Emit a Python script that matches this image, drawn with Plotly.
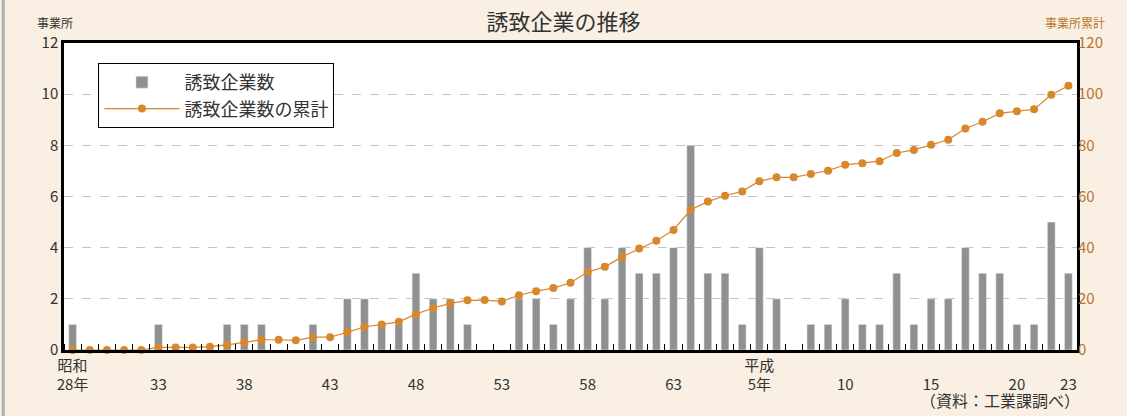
import plotly.graph_objects as go

# 昭和28年(1953) ～ 平成23年(2011)
years = list(range(1953, 2012))

companies = [
    1, 0, 0, 0, 0, 1, 0, 0, 0, 1, 1, 1, 0, 0, 1, 0,  # S28-S43
    2, 2, 1, 1, 3, 2, 2, 1, 0, 0, 2, 2, 1, 2, 4, 2,  # S44-S59
    4, 3, 3, 4, 8,                                    # S60-S64
    3, 3, 1, 4, 2, 0, 1, 1, 2, 1, 1, 3, 1, 2, 2, 4,  # H2-H17
    3, 3, 1, 1, 5, 3,                                 # H18-H23
]

cumulative = [
    0, 0, 0, 0, 0, 1, 1, 1, 1.3, 2, 3, 4, 4, 3.8, 5, 5,
    7, 9, 10, 11, 14, 16.4, 18.2, 19.4, 19.5, 19, 21.4, 23, 24.2, 26.3, 30.5, 32.5,
    36.4, 39.7, 42.7, 46.9, 54.8,
    58, 60.3, 62, 66, 67.5, 67.5, 68.8, 70.1, 72.4, 73, 73.8, 77, 78.2, 80.2, 82.2, 86.6,
    89.2, 92.5, 93.3, 94.1, 99.8, 103.3,
]

tick_years = [1953, 1958, 1963, 1968, 1973, 1978, 1983, 1988, 1993, 1998, 2003, 2008, 2011]
tick_text = ["昭和<br>28年", "<br>33", "<br>38", "<br>43", "<br>48", "<br>53", "<br>58",
             "<br>63", "平成<br>5年", "<br>10", "<br>15", "<br>20", "<br>23"]

FONT = "Noto Sans CJK JP"
ORANGE = "#d8882c"
BROWN = "#b8742e"

fig = go.Figure()
fig.add_trace(go.Bar(
    x=years, y=companies, name="誘致企業数",
    marker_color="#909090", width=0.45,
))
fig.add_trace(go.Scatter(
    x=years, y=cumulative, name="誘致企業数の累計", yaxis="y2",
    mode="lines+markers", line=dict(color=ORANGE, width=1.2),
    marker=dict(color=ORANGE, size=8), cliponaxis=False,
))

fig.update_layout(
    width=1127, height=416,
    margin=dict(l=64, r=50, t=43, b=66),
    paper_bgcolor="#f9f0e3", plot_bgcolor="white",
    font=dict(family=FONT, color="#333333", size=15),
    title=dict(text="誘致企業の推移", x=0.5, xanchor="center", y=0.947, yanchor="middle",
               font=dict(size=22, color="#333333")),
    showlegend=True,
    legend=dict(x=0.034, y=0.935, xanchor="left", yanchor="top",
                bgcolor="white", bordercolor="black", borderwidth=1,
                font=dict(size=18, color="#333333"), tracegroupgap=2,
                itemwidth=75),
    xaxis=dict(
        range=[1952.5, 2011.5], tickmode="array", tickvals=tick_years, ticktext=tick_text,
        ticks="", showgrid=False, zeroline=False,
        showline=True, linecolor="black", linewidth=2.5, mirror=True,
        tickfont=dict(size=15, color="#333333"),
        minor=dict(tickmode="linear", tick0=1952.5, dtick=1, ticks="inside",
                   ticklen=6, tickcolor="black", tickwidth=1, showgrid=False),
    ),
    yaxis=dict(
        range=[0, 12], dtick=2, ticks="", showgrid=True,
        gridcolor="#c4c4c4", griddash="dash", gridwidth=1, zeroline=False,
        showline=True, linecolor="black", linewidth=2.5, mirror=True,
        tickfont=dict(size=15, color="#333333"),
    ),
    yaxis2=dict(
        range=[0, 120], dtick=20, overlaying="y", side="right", ticks="",
        showgrid=False, zeroline=False, showline=False,
        tickfont=dict(size=15, color=BROWN),
    ),
    annotations=[
        dict(text="事業所", xref="paper", yref="paper", x=-0.0286, y=1.0, yshift=21,
             xanchor="left", yanchor="middle", showarrow=False,
             font=dict(size=12, color="#333333")),
        dict(text="事業所累計", xref="paper", yref="paper", x=1.0296, y=1.0, yshift=21,
             xanchor="right", yanchor="middle", showarrow=False,
             font=dict(size=12, color=BROWN)),
        dict(text="（資料：工業課調べ）", xref="paper", yref="paper", x=1.005, y=0, yshift=-50,
             xanchor="right", yanchor="middle", showarrow=False,
             font=dict(size=16, color="#333333")),
    ],
    shapes=[
        dict(type="line", xref="paper", yref="paper", x0=-0.06, x1=-0.06,
             y0=-0.22, y1=1.15, line=dict(color="#b0b0b0", width=3)),
    ],
)

fig.write_html("out.html", config={"displayModeBar": False},
               post_script="document.body.style.margin='0';")
